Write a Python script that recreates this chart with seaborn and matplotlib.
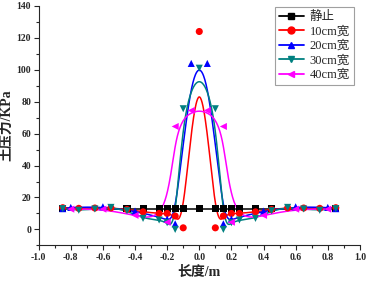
import numpy as np
import pandas as pd
import matplotlib
matplotlib.use('Agg')
import matplotlib.pyplot as plt
import seaborn as sns
from matplotlib.lines import Line2D
from matplotlib.ticker import MultipleLocator

x_static = [-0.85, -0.45, -0.35, -0.25, -0.2, -0.15, -0.1, 0.0, 0.1, 0.15, 0.2, 0.25, 0.35, 0.45, 0.85]
y_static = [13, 13, 13, 13, 13, 13, 13, 13, 13, 13, 13, 13, 13, 13, 13]

x_10 = [-0.85, -0.75, -0.65, -0.55, -0.45, -0.35, -0.25, -0.2, -0.15, -0.1, 0.0,
        0.1, 0.15, 0.2, 0.25, 0.35, 0.45, 0.55, 0.65, 0.75, 0.85]
y_10 = [13.6, 13.2, 13.4, 13.5, 12.5, 11, 10, 10, 8.4, 1, 124,
        1, 8.4, 10, 10, 11, 12.5, 13.5, 13.4, 13.2, 13.6]

x_20 = [-0.85, -0.8, -0.6, -0.4, -0.2, -0.15, -0.05, 0.05, 0.15, 0.2, 0.4, 0.6, 0.8, 0.85]
y_20 = [13, 13.8, 14.2, 11.5, 6.5, 3.5, 104, 104, 3.5, 6.5, 11.5, 14.2, 13.8, 13]

x_30 = [-0.85, -0.75, -0.65, -0.55, -0.45, -0.35, -0.25, -0.2, -0.15, -0.1, 0.0,
        0.1, 0.15, 0.2, 0.25, 0.35, 0.45, 0.55, 0.65, 0.75, 0.85]
y_30 = [13, 12, 12.8, 13.8, 11.7, 6.9, 5.9, 4.2, 0, 75.6, 101,
        75.6, 0, 4.2, 5.9, 6.9, 11.7, 13.8, 12.8, 12, 13]

x_40 = [-0.8, -0.6, -0.4, -0.2, -0.15, -0.05, 0.05, 0.15, 0.2, 0.4, 0.6, 0.8]
y_40 = [12.7, 12.7, 8.8, 4.5, 64.5, 74.5, 74.5, 64.5, 4.5, 8.8, 12.7, 12.7]

labels = ['静止', '10cm宽', '20cm宽', '30cm宽', '40cm宽']
colores = ['#000000', '#ff0000', '#0000ff', '#008080', '#ff00ff']
marcadores = ['s', 'o', '^', 'v', '<']
series = [(x_static, y_static), (x_10, y_10), (x_20, y_20), (x_30, y_30), (x_40, y_40)]


def bspline(x, y, n=40):
    # B-spline cubica uniforme, los puntos son puntos de control
    P = np.column_stack([x, y]).astype(float)
    P = np.vstack([P[0], P[0], P, P[-1], P[-1]])
    t = np.linspace(0, 1, n)
    b0 = (1 - t) ** 3 / 6
    b1 = (3 * t ** 3 - 6 * t ** 2 + 4) / 6
    b2 = (-3 * t ** 3 + 3 * t ** 2 + 3 * t + 1) / 6
    b3 = t ** 3 / 6
    pts = []
    for i in range(len(P) - 3):
        seg = (np.outer(b0, P[i]) + np.outer(b1, P[i + 1])
               + np.outer(b2, P[i + 2]) + np.outer(b3, P[i + 3]))
        pts.append(seg)
    pts = np.vstack(pts)
    return pts[:, 0], pts[:, 1]


sns.set_style('ticks')
plt.rcParams['font.family'] = ['Liberation Serif', 'Noto Sans CJK SC']

fig, ax = plt.subplots(figsize=(3.68, 2.84), dpi=100)
fig.subplots_adjust(left=0.105, right=0.978, top=0.979, bottom=0.136)

handles = []
for (xs, ys), lab, c, m in zip(series, labels, colores, marcadores):
    cx, cy = bspline(xs, ys)
    curva = pd.DataFrame({'x': cx, 'y': cy})
    sns.lineplot(data=curva, x='x', y='y', sort=False, estimator=None,
                 color=c, linewidth=1.1, ax=ax)
    pts = pd.DataFrame({'x': xs, 'y': ys})
    sns.scatterplot(data=pts, x='x', y='y', marker=m, color=c, s=26,
                    edgecolor='none', ax=ax, zorder=3)
    handles.append(Line2D([], [], color=c, marker=m, markersize=5, linewidth=1.3))

ax.set_xlim(-1.0, 1.0)
ax.set_ylim(-10, 140)
ax.xaxis.set_major_locator(MultipleLocator(0.2))
ax.xaxis.set_minor_locator(MultipleLocator(0.1))
ax.yaxis.set_major_locator(MultipleLocator(20))
ax.yaxis.set_minor_locator(MultipleLocator(10))
ax.tick_params(which='major', direction='out', length=3.5, width=0.8, labelsize=7, pad=2)
ax.tick_params(which='minor', direction='out', length=2, width=0.8)
ax.set_xticklabels([f'{v:.1f}' for v in ax.get_xticks()], fontweight='bold')
ax.set_yticklabels([f'{int(v)}' for v in ax.get_yticks()], fontweight='bold')
sns.despine(ax=ax)
for s in ['left', 'bottom']:
    ax.spines[s].set_linewidth(0.8)

ax.set_xlabel('长度/m', fontsize=10, fontweight='bold', labelpad=3)
ax.set_ylabel('土压力/KPa', fontsize=10, fontweight='bold', labelpad=2)

leg = ax.legend(handles, labels, loc='upper right', bbox_to_anchor=(0.985, 1.0),
                fontsize=9, frameon=True, fancybox=False, edgecolor='#888888',
                handlelength=2.0, labelspacing=0.2, borderpad=0.3, handletextpad=0.5,
                borderaxespad=0.1)
leg.get_frame().set_linewidth(0.8)

fig.savefig('out.png', dpi=100)
